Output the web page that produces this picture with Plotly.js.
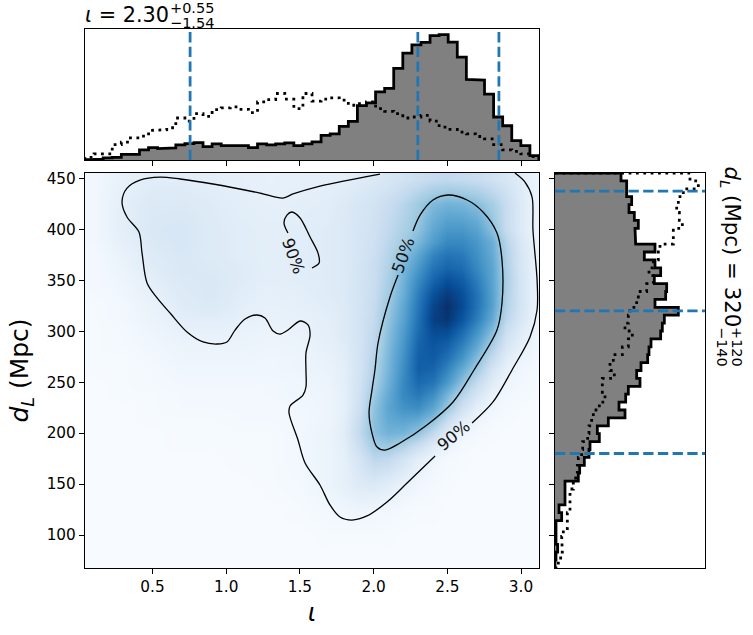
<!DOCTYPE html>
<html>
<head>
<meta charset="utf-8">
<script src="https://cdn.plot.ly/plotly-3.0.1.min.js"></script>
<style>html,body{margin:0;padding:0;background:#fff}</style>
</head>
<body>
<div id="chart" style="width:753px;height:635px"></div>
<script>
// ---------- DATA ----------
const iotaRange = [0.042, 3.122];
const distRange = [67.6, 455.4];

// marginal histograms (arbitrary density units), 50 bins
const iotaPosterior = [1,2,6,8,17,17,30,37,34,36,45,49,52,40,48,43,43,43,37,48,45,48,51,43,48,54,73,78,100,115,162,170,203,213,273,318,343,350,370,373,351,306,240,238,196,128,102,58,43,13];
const iotaPrior = [8,18,18,46,53,66,71,88,90,96,125,116,138,130,150,155,158,151,141,173,180,198,181,153,198,175,181,185,178,163,168,173,153,145,138,125,128,133,116,98,91,83,78,70,63,46,30,26,18,10];
// distance bins are listed from the largest distance to the smallest
const distPosterior = [198,215,215,230,222,238,250,240,242,300,268,300,317,298,335,332,300,370,328,322,317,288,282,278,258,245,255,220,212,192,210,160,127,133,105,102,88,74,70,30,30,30,12,20,3,3,3,8,3,0];
const distPrior = [405,430,385,370,365,373,382,355,355,315,310,295,282,295,275,250,245,225,220,210,232,220,202,175,165,178,142,142,150,133,115,110,102,98,83,80,70,67,62,55,45,46,45,37,37,25,20,22,17,10];

// credible interval lines
const iotaQuantiles = [0.755, 2.30, 2.85];
const distQuantiles = [180, 320, 437.7];

// density image
const densX = [0.1,0.3,0.5,0.7,0.9,1.1,1.3,1.5,1.7,1.8,1.9,2.0,2.1,2.2,2.3,2.4,2.5,2.6,2.7,2.8,2.9,3.0,3.1];
const densY = [75,100,125,150,175,187.5,200,212.5,225,237.5,250,262.5,275,287.5,300,312.5,325,337.5,350,362.5,375,387.5,400,425,450];
const d075 = [0,0,0,0,0,0,0,0, 0,0,0,0,0,0,0,0,0,0,0,0,0,0,0];
const d100 = [0,0,0,0,0,0,0,0, .01,.01,.01,.01,.01,0,0,0,0,0,0,0,0,0,0];
const d125 = [0,0,0,0,0,0,0,.01, .03,.04,.05,.04,.03,.02,.01,.01,0,0,0,0,0,0,0];
const d150 = [0,0,0,0,0,0,.01,.02, .06,.09,.13,.14,.11,.07,.04,.02,.01,0,0,0,0,0,0];
const d175 = [0,0,0,0,0,.01,.01,.03, .06,.09,.17,.28,.26,.18,.10,.05,.02,.01,0,0,0,0,0];
const d1875 = [0,0,0,.01,.01,.01,.01,.03, .06,.10,.22,.36,.38,.32,.22,.12,.06,.02,.01,0,0,0,0];
const d200 = [0,0,0,.01,.01,.01,.01,.03, .06,.11,.26,.42,.48,.47,.40,.26,.12,.05,.02,.01,0,0,0];
const d2125 = [0,0,.01,.01,.01,.02,.02,.03, .05,.10,.24,.42,.52,.55,.52,.42,.24,.11,.05,.02,.01,0,0];
const d225 = [0,0,.01,.02,.02,.02,.02,.03, .05,.09,.21,.41,.54,.62,.64,.54,.38,.20,.09,.04,.02,.01,0];
const d2375 = [0,.01,.01,.02,.02,.02,.03,.04, .05,.09,.20,.38,.52,.66,.72,.64,.47,.30,.16,.07,.03,.02,.01];
const d250 = [0,.01,.02,.03,.03,.03,.03,.04, .06,.10,.19,.34,.49,.66,.78,.74,.60,.42,.25,.12,.05,.03,.01];
const d2625 = [.01,.01,.02,.04,.04,.04,.04,.05, .07,.10,.18,.32,.47,.64,.82,.80,.68,.52,.36,.18,.08,.04,.02];
const d275 = [.01,.01,.03,.05,.05,.05,.04,.05, .08,.11,.18,.30,.46,.62,.82,.84,.76,.62,.44,.26,.12,.06,.03];
const d2875 = [.01,.02,.04,.06,.06,.06,.05,.06, .09,.12,.18,.28,.44,.60,.80,.86,.82,.70,.54,.35,.17,.09,.04];
const d300 = [.01,.02,.05,.08,.08,.07,.06,.07, .10,.13,.18,.27,.42,.58,.77,.90,.90,.78,.62,.44,.22,.12,.05];
const d3125 = [.01,.03,.06,.10,.11,.09,.07,.08, .10,.13,.18,.26,.40,.55,.75,.94,.98,.86,.70,.52,.28,.15,.06];
const d325 = [.01,.03,.07,.12,.14,.10,.08,.09, .11,.13,.18,.25,.38,.53,.73,.92,1.0,.90,.74,.56,.32,.17,.07];
const d3375 = [.02,.04,.09,.13,.15,.11,.09,.10, .12,.14,.18,.24,.36,.50,.70,.87,.95,.88,.74,.56,.33,.17,.07];
const d350 = [.02,.05,.10,.14,.15,.12,.10,.11, .12,.14,.18,.23,.34,.48,.65,.80,.88,.83,.70,.55,.34,.17,.07];
const d3625 = [.02,.06,.12,.15,.14,.12,.10,.11, .12,.14,.18,.23,.32,.46,.60,.74,.80,.77,.66,.54,.33,.16,.07];
const d375 = [.02,.07,.13,.15,.13,.11,.10,.11, .12,.14,.17,.22,.30,.42,.54,.68,.74,.72,.63,.52,.32,.16,.07];
const d3875 = [.03,.09,.14,.16,.13,.11,.10,.11, .12,.14,.17,.21,.28,.36,.46,.58,.66,.66,.60,.50,.30,.15,.07];
const d400 = [.03,.10,.15,.16,.13,.11,.10,.11, .12,.14,.17,.20,.26,.33,.41,.53,.60,.60,.55,.42,.24,.13,.06];
const d425 = [.03,.10,.14,.14,.12,.10,.09,.10, .11,.13,.16,.19,.23,.29,.37,.45,.48,.47,.43,.35,.24,.13,.06];
const d450 = [.03,.08,.11,.11,.10,.09,.08,.09, .09,.10,.12,.14,.16,.19,.22,.25,.26,.25,.23,.20,.16,.11,.06];

// contours, in data coordinates (iota, distance)
const c90aX = [2.043,1.636,1.453,1.385,1.229,.910,.687,.551,.415,.327,.293,.327,.408,.429,.463,.531,.619,.734,.843,.938,1.005,1.060,1.128,1.209,1.263,1.318,1.365,1.419,1.501,1.555,1.569,1.541,1.541,1.541,1.521,1.433,1.426,1.487,1.535,1.636,1.704,1.772,1.853,1.955,2.091,2.227,2.417];
const c90aY = [454.4,442.6,434.8,430.8,435.7,444.6,449.5,451.4,448.5,440.6,426.9,412.2,397.5,376.8,347.4,332.7,317.9,299.3,289.5,287.5,289.5,301.2,312,316,313,300.3,297.3,301.2,310.1,306.2,296.3,278.7,262,245.3,237.4,226.6,219.8,193.3,170.7,149.1,129.5,117.7,114.7,118.7,132.4,151,177.6];
const c90bX = [2.668,2.810,2.939,3.061,3.109,3.109,3.081,3.075,3.027,2.959];
const c90bY = [210,230.6,262,294.4,320.9,350.3,399.4,431.8,446.5,455.4];
const c90cX = [1.419,1.392,1.412,1.446,1.501,1.569,1.623,1.630,1.582];
const c90cY = [396.5,406.3,414.1,417.1,411.2,392.5,376.8,367,362.1];
const c50X = [2.267,2.315,2.403,2.505,2.634,2.742,2.837,2.871,2.871,2.837,2.681,2.539,2.362,2.179,2.077,2.023,1.989,1.969,1.989,2.009,2.030,2.111,2.166];
const c50Y = [398.4,414.1,428.9,433.8,428.9,417.1,396.5,370,327.8,301.2,262,230.6,208,190.3,183.4,186.4,200.1,219.8,242.3,262,288.5,333.6,355.2];

// ---------- helpers ----------
const blues = [[0,'#f7fbff'],[.125,'#deebf7'],[.25,'#c6dbef'],[.375,'#9ecae1'],[.5,'#6baed6'],[.625,'#4292c6'],[.75,'#2171b5'],[.875,'#08519c'],[1,'#08306b']];
const font = 'DejaVu Sans, sans-serif';
const W = 753, H = 635;

function stairs(values, lo, hi, descending) {
  const n = values.length, step = (hi - lo) / n;
  const pos = [], val = [];
  values.forEach((v, i) => {
    const a = descending ? hi - i * step : lo + i * step;
    const b = descending ? hi - (i + 1) * step : lo + (i + 1) * step;
    if (i === 0) { pos.push(a); val.push(0); }
    pos.push(a, b); val.push(v, v);
    if (i === n - 1) { pos.push(b); val.push(0); }
  });
  return {pos, val};
}
const iP = stairs(iotaPosterior, iotaRange[0], iotaRange[1], false);
const iQ = stairs(iotaPrior, iotaRange[0], iotaRange[1], false);
const dP = stairs(distPosterior, distRange[0], distRange[1], true);
const dQ = stairs(distPrior, distRange[0], distRange[1], true);

const blackThin = {color:'#000', width:1.3, shape:'spline', smoothing:0.9};
const dotted = {color:'#000', width:2.78, dash:'2.78px,4.58px'};
const traces = [
  {type:'heatmap', x:densX, y:densY,
   z:[d075,d100,d125,d150,d175,d1875,d200,d2125,d225,d2375,d250,d2625,d275,d2875,d300,d3125,d325,d3375,d350,d3625,d375,d3875,d400,d425,d450],
   colorscale:blues, zmin:0, zmax:1, zsmooth:'best', showscale:false, xaxis:'x', yaxis:'y', hoverinfo:'skip'},
  {x:c90aX, y:c90aY, mode:'lines', line:blackThin, xaxis:'x', yaxis:'y'},
  {x:c90bX, y:c90bY, mode:'lines', line:blackThin, xaxis:'x', yaxis:'y'},
  {x:c90cX, y:c90cY, mode:'lines', line:blackThin, xaxis:'x', yaxis:'y'},
  {x:c50X, y:c50Y, mode:'lines', line:blackThin, xaxis:'x', yaxis:'y'},

  {x:iP.pos, y:iP.val, mode:'lines', fill:'toself', fillcolor:'#808080', line:{color:'#000',width:2.78}, xaxis:'x2', yaxis:'y2'},
  {x:iQ.pos, y:iQ.val, mode:'lines', line:dotted, xaxis:'x2', yaxis:'y2'},

  {x:dP.val, y:dP.pos, mode:'lines', fill:'toself', fillcolor:'#808080', line:{color:'#000',width:2.78}, xaxis:'x3', yaxis:'y3'},
  {x:dQ.val, y:dQ.pos, mode:'lines', line:dotted, xaxis:'x3', yaxis:'y3'}
];
const blueLine = {color:'#1f77b4', width:2.78, dash:'10.3px,4.4px'};
iotaQuantiles.forEach(q => traces.push({x:[q,q], y:[0,390], mode:'lines', line:blueLine, xaxis:'x2', yaxis:'y2'}));
distQuantiles.forEach(q => traces.push({x:[0,450], y:[q,q], mode:'lines', line:blueLine, xaxis:'x3', yaxis:'y3'}));

const dx = [85/W, 539/W], rx = [555/W, 705/W];
const dy = [1-568/H, 1-173/H], ty = [1-160/H, 1-29/H];
const axisBase = {showline:true, mirror:true, linecolor:'#000', linewidth:1.1, showgrid:false, zeroline:false,
                  ticks:'outside', ticklen:5, tickwidth:1, tickcolor:'#000', tickfont:{family:font,size:15.3,color:'#000'}};

function pxNote(text, px, py, size, extra) {
  return Object.assign({text, x:px/W, y:1-py/H, xref:'paper', yref:'paper', showarrow:false,
    font:{family:font,size:size,color:'#000'}, xanchor:'center', yanchor:'middle'}, extra||{});
}
function dataNote(text, x, y, angle) {
  return {text, x, y, xref:'x', yref:'y', showarrow:false, textangle:angle, font:{family:font,size:16.5,color:'#111'}};
}

const layout = {
  width:W, height:H, margin:{l:0,r:0,t:0,b:0}, paper_bgcolor:'#fff', plot_bgcolor:'#fff', showlegend:false,
  title:{text:'<i>ι</i> = 2.30', x:85/W, xanchor:'left', xref:'paper', y:1-15/H, yanchor:'middle', yref:'paper', font:{family:font,size:20.8,color:'#000'}},
  xaxis:Object.assign({}, axisBase, {domain:dx, range:iotaRange, anchor:'y', tick0:0.5, dtick:0.5, tickformat:'.1f',
     title:{text:'<i>ι</i>', font:{family:font,size:25,color:'#000'}, standoff:8}}),
  yaxis:Object.assign({}, axisBase, {domain:dy, range:distRange, anchor:'x', tick0:100, dtick:50,
     title:{text:'<i>d<sub>L</sub></i> (Mpc)', font:{family:font,size:25,color:'#000'}, standoff:10}}),
  xaxis2:Object.assign({}, axisBase, {domain:dx, range:iotaRange, anchor:'y2', tick0:0.5, dtick:0.5, showticklabels:false}),
  yaxis2:Object.assign({}, axisBase, {domain:ty, range:[0,390], anchor:'x2', ticks:'', showticklabels:false}),
  xaxis3:Object.assign({}, axisBase, {domain:rx, range:[0,450], anchor:'y3', ticks:'', showticklabels:false}),
  yaxis3:Object.assign({}, axisBase, {domain:dy, range:distRange, anchor:'x3', tick0:100, dtick:50, showticklabels:false}),
  annotations:[
    dataNote('90%', 1.453, 373, 70),
    dataNote('50%', 2.206, 375, -70),
    dataNote('90%', 2.545, 198, -40),
    pxNote('+0.55', 168, 8, 14.5, {xanchor:'left'}),
    pxNote('−1.54', 168, 22.5, 14.5, {xanchor:'left'}),
    pxNote('<i>d<sub>L</sub></i> (Mpc) = 320', 730, 246.5, 21.3, {textangle:90}),
    pxNote('+120', 737, 347, 14.5, {textangle:90}),
    pxNote('−140', 722, 347, 14.5, {textangle:90})
  ]
};
Plotly.newPlot('chart', traces, layout, {displayModeBar:false, staticPlot:true}).then(gd => {
  gd.querySelectorAll('text').forEach(t => { if (!t.textContent.trim()) t.remove(); });
});
</script>
</body>
</html>
